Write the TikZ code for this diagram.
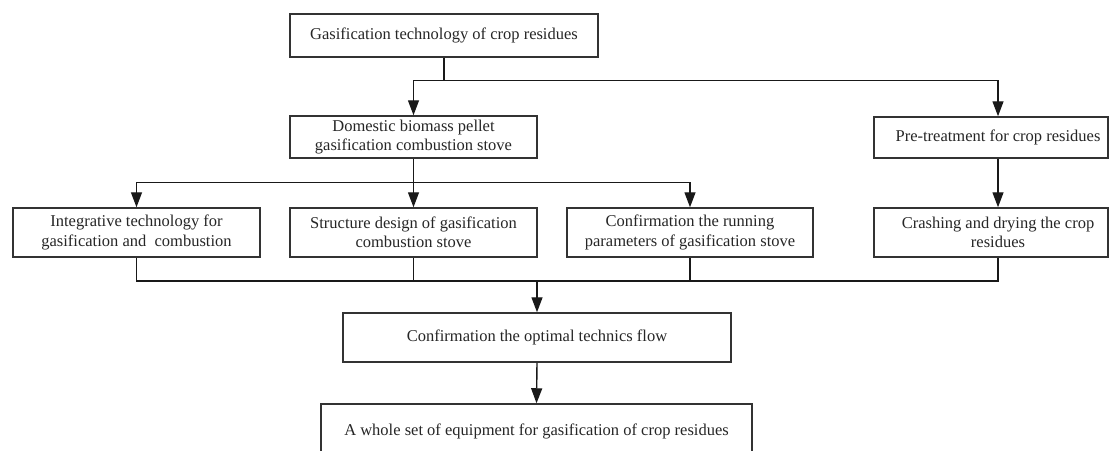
\documentclass[tikz,border=0pt]{standalone}
\usepackage{fontspec}
\setmainfont{Liberation Serif}
\usetikzlibrary{arrows.meta}
\begin{document}
\begin{tikzpicture}[x=1pt,y=-1pt,
  box/.style={draw=black!80, line width=1.5pt, inner sep=0pt, align=center,
    font=\fontsize{16.5}{19.5}\selectfont, text=black!85},
  plain/.style={inner sep=0pt, align=center, font=\fontsize{16.5}{19.5}\selectfont, text=black!85},
  conn/.style={line width=1.4pt, draw=black!90},
  arr/.style={conn, -{Triangle[length=15pt,width=11pt]}}]
\useasboundingbox (0,0) rectangle (1110,450);
\clip (0,0) rectangle (1110,450);
\fill[white] (0,0) rectangle (1110,450);

\node[box, minimum width=308, minimum height=43] (top) at (444,35.5) {Gasification technology of crop residues};
\node[box, minimum width=247, minimum height=42] (dom) at (413.5,137) {Domestic biomass pellet\\gasification combustion stove};
\node[box, minimum width=234, minimum height=41] (pre) at (991,137.5) {};
\node[plain] (pretxt) at (998,137.5) {Pre-treatment for crop residues};

\node[box, minimum width=247, minimum height=49] (A) at (136.5,232.5) {Integrative technology for\\gasification and\ \ combustion};
\node[box, minimum width=247, minimum height=49] (B) at (413.5,232.5) {Structure design of gasification\\combustion stove};
\node[box, minimum width=246, minimum height=49] (C) at (690,232.5) {Confirmation the running\\parameters of gasification stove};
\node[box, minimum width=234, minimum height=49] (D) at (991,232.5) {};
\node[plain] (Dtxt) at (998,232.5) {Crashing and drying the crop\\residues};

\node[box, minimum width=388, minimum height=49] (opt) at (537,337.5) {Confirmation the optimal technics flow};
\node[box, minimum width=431, minimum height=54] (last) at (536.5,431) {A whole set of equipment for gasification of crop residues};

\draw[conn] (top.south) -- ++(0,23) coordinate (j1);
\draw[arr] (j1) -| (dom.north);
\draw[arr] (j1) -| (pretxt |- pre.north);

\draw[conn] (dom.south) -- ++(0,24) coordinate (j2);
\draw[arr] (j2) -| (A.north);
\draw[arr] (j2) -- (B.north);
\draw[arr] (j2) -| (C.north);
\draw[arr] (pretxt |- pre.south) -- (Dtxt |- D.north);

\coordinate (j3) at (537,281);
\draw[conn] (A.south) |- (j3) -| (Dtxt |- D.south);
\draw[conn] (B.south) -- (B.south |- j3);
\draw[conn] (C.south) -- (C.south |- j3);
\draw[arr] (j3) -- (opt.north);
\draw[arr] (opt.south) -- (last.north);
\end{tikzpicture}
\end{document}
